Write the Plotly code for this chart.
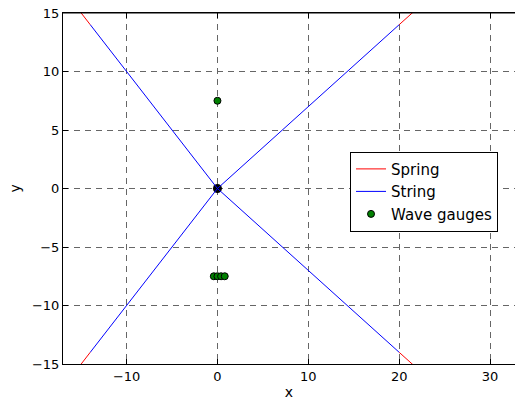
import plotly.graph_objects as go

# String segments: from body centre to fairlead points
string_x = [0, -14, None, 0, 20, None, 0, -14, None, 0, 20]
string_y = [0, 14, None, 0, 14, None, 0, -14, None, 0, -14]

# Spring segments: from fairlead points outward to anchors
spring_x = [-14, -17, None, 20, 24.3, None, -14, -17, None, 20, 24.3]
spring_y = [14, 17, None, 14, 17, None, -14, -17, None, -14, -17]

# Body centre
body_x = [0]
body_y = [0]

# Wave gauges
gauge_x = [0, -0.4, 0.0, 0.4, 0.8]
gauge_y = [7.5, -7.5, -7.5, -7.5, -7.5]

x_ticks = [-10, 0, 10, 20, 30]
y_ticks = [-15, -10, -5, 0, 5, 10, 15]

fig = go.Figure()
fig.add_trace(go.Scatter(x=body_x, y=body_y, mode="markers", showlegend=False,
                         marker=dict(color="black", size=9, line=dict(width=0))))
fig.add_trace(go.Scatter(x=spring_x, y=spring_y, mode="lines", name="Spring",
                         line=dict(color="red", width=1)))
fig.add_trace(go.Scatter(x=string_x, y=string_y, mode="lines", name="String",
                         line=dict(color="blue", width=1)))
fig.add_trace(go.Scatter(x=gauge_x, y=gauge_y, mode="markers", name="Wave gauges",
                         marker=dict(color="green", size=7, line=dict(color="black", width=1))))

axis_common = dict(
    showline=True, linecolor="black", linewidth=1,
    ticks="inside", ticklen=5, tickcolor="black", tickwidth=1,
    showgrid=True, gridcolor="#666666", gridwidth=1, griddash="6px,5px",
    zeroline=False, automargin=False, ticklabeloverflow="allow",
    tickfont=dict(family="DejaVu Sans", size=13, color="black"),
    title_font=dict(family="DejaVu Sans", size=14, color="black"),
)

fig.update_xaxes(range=[-17, 32.75], tickvals=x_ticks, mirror="allticks",
                 title_text="x", title_standoff=4, **axis_common)
fig.update_yaxes(range=[-15, 15], tickvals=y_ticks, mirror=False, **axis_common)

# y-axis label
fig.add_annotation(text="y", xref="paper", yref="paper", x=0, y=0.5, xshift=-49,
                   textangle=-90, showarrow=False, xanchor="center", yanchor="middle",
                   font=dict(family="DejaVu Sans", size=14, color="black"))

# top frame line of the axes box
fig.add_shape(type="line", xref="paper", yref="paper", x0=0, x1=1, y0=1, y1=1,
              line=dict(color="black", width=1))

fig.update_layout(
    width=515, height=408,
    margin=dict(l=63, r=0, t=13, b=44, autoexpand=False),
    paper_bgcolor="white", plot_bgcolor="white",
    font=dict(family="DejaVu Sans", size=15, color="black"),
    legend=dict(x=0.635, y=0.605, xanchor="left", yanchor="top",
                bgcolor="white", bordercolor="black", borderwidth=1,
                font=dict(size=15), tracegroupgap=0, itemwidth=30),
)

fig.write_html("out.html", config={"displayModeBar": False},
               post_script="document.body.style.margin='0';")
